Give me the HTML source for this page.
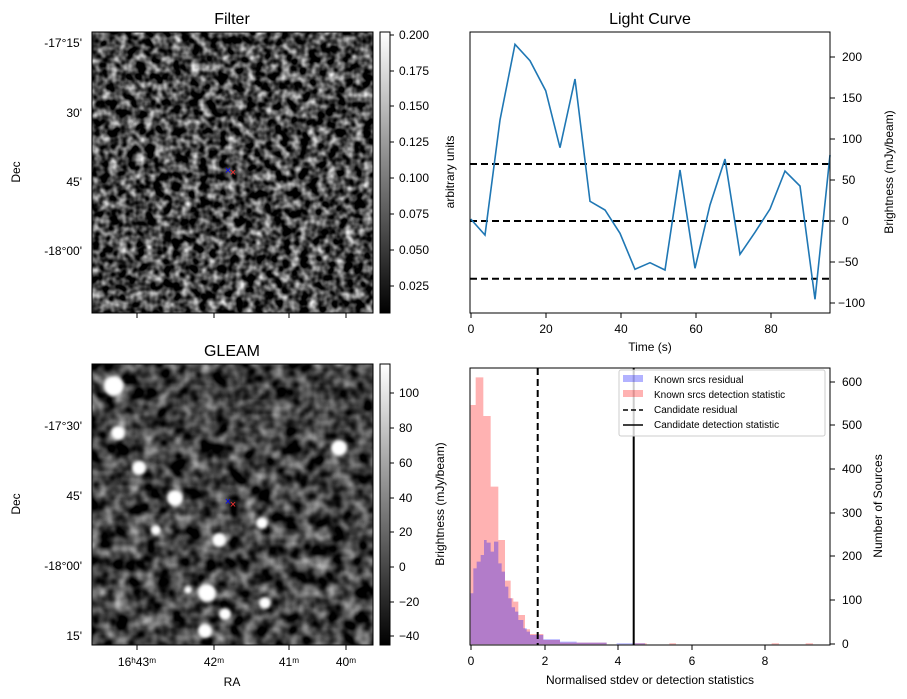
<!DOCTYPE html>
<html><head><style>
body{margin:0;background:#fff;}
svg{display:block;font-family:"Liberation Sans","DejaVu Sans",sans-serif;}
</style></head><body>
<svg width="907" height="699" viewBox="0 0 907 699" xmlns="http://www.w3.org/2000/svg">
<defs>
<filter id="n1" x="0" y="0" width="100%" height="100%" color-interpolation-filters="sRGB">
<feTurbulence type="fractalNoise" baseFrequency="0.11" numOctaves="2" seed="3"/>
<feColorMatrix type="matrix" values="1.7 0 0 0 -0.58  1.7 0 0 0 -0.58  1.7 0 0 0 -0.58  0 0 0 0 1"/>
</filter>
<filter id="n2" x="0" y="0" width="100%" height="100%" color-interpolation-filters="sRGB">
<feTurbulence type="fractalNoise" baseFrequency="0.07" numOctaves="2" seed="7"/>
<feColorMatrix type="matrix" values="1.2 0 0 0 -0.35  1.2 0 0 0 -0.35  1.2 0 0 0 -0.35  0 0 0 0 1"/>
</filter>
<filter id="bl"><feGaussianBlur stdDeviation="1.6"/></filter>
<linearGradient id="cb" x1="0" y1="1" x2="0" y2="0"><stop offset="0" stop-color="#000"/><stop offset="1" stop-color="#fff"/></linearGradient>
</defs>

<!-- Filter image -->
<text x="232" y="24" font-size="16" text-anchor="middle">Filter</text>
<rect x="92" y="32" width="281" height="281" fill="#000" filter="url(#n1)"/>
<rect x="92" y="32" width="281" height="281" fill="none" stroke="#000"/>
<text x="228" y="174" font-size="11" fill="#00f" text-anchor="middle">×</text>
<text x="233" y="176" font-size="11" fill="#f33" text-anchor="middle">×</text>
<g font-size="12" text-anchor="end">
<text x="82" y="47">-17°15'</text><text x="82" y="117">30'</text><text x="82" y="186">45'</text><text x="82" y="255">-18°00'</text>
</g>
<text transform="translate(20,172) rotate(-90)" font-size="12" text-anchor="middle">Dec</text>
<g stroke="#000"><line x1="137" y1="313" x2="137" y2="318"/><line x1="214" y1="313" x2="214" y2="318"/><line x1="289" y1="313" x2="289" y2="318"/><line x1="346" y1="313" x2="346" y2="318"/></g>
<rect x="380" y="32" width="10" height="281" fill="url(#cb)" stroke="#000"/>
<g font-size="12"><text x="399" y="39">0.200</text><text x="399" y="75">0.175</text><text x="399" y="110">0.150</text><text x="399" y="146">0.125</text><text x="399" y="182">0.100</text><text x="399" y="218">0.075</text><text x="399" y="254">0.050</text><text x="399" y="290">0.025</text></g>
<g stroke="#000"><line x1="390" y1="35" x2="394" y2="35"/><line x1="390" y1="71" x2="394" y2="71"/><line x1="390" y1="106" x2="394" y2="106"/><line x1="390" y1="142" x2="394" y2="142"/><line x1="390" y1="178" x2="394" y2="178"/><line x1="390" y1="214" x2="394" y2="214"/><line x1="390" y1="250" x2="394" y2="250"/><line x1="390" y1="286" x2="394" y2="286"/></g>
<text transform="translate(454,172) rotate(-90)" font-size="12" text-anchor="middle">arbitrary units</text>

<!-- GLEAM image -->
<text x="232" y="356" font-size="16" text-anchor="middle">GLEAM</text>
<rect x="92" y="364" width="281" height="281" fill="#000" filter="url(#n2)"/>
<g fill="#fff" filter="url(#bl)">
<circle cx="114" cy="386" r="10"/><circle cx="118" cy="433" r="7"/><circle cx="139" cy="468" r="7"/><circle cx="175" cy="498" r="8"/><circle cx="339" cy="448" r="8"/><circle cx="219" cy="540" r="7"/><circle cx="262" cy="523" r="6"/><circle cx="207" cy="593" r="9"/><circle cx="205" cy="631" r="7"/><circle cx="225" cy="614" r="6"/><circle cx="265" cy="603" r="6"/><circle cx="156" cy="530" r="5"/><circle cx="188" cy="590" r="4"/>
</g>
<rect x="92" y="364" width="281" height="281" fill="none" stroke="#000"/>
<text x="228" y="505" font-size="11" fill="#00f" text-anchor="middle">×</text>
<text x="233" y="508" font-size="11" fill="#f33" text-anchor="middle">×</text>
<g font-size="12" text-anchor="end">
<text x="82" y="430">-17°30'</text><text x="82" y="500">45'</text><text x="82" y="570">-18°00'</text><text x="82" y="640">15'</text>
</g>
<text transform="translate(20,504) rotate(-90)" font-size="12" text-anchor="middle">Dec</text>
<g stroke="#000"><line x1="137" y1="645" x2="137" y2="650"/><line x1="214" y1="645" x2="214" y2="650"/><line x1="289" y1="645" x2="289" y2="650"/><line x1="346" y1="645" x2="346" y2="650"/></g>
<g font-size="12" text-anchor="middle"><text x="137" y="666">16ʰ43ᵐ</text><text x="214" y="666">42ᵐ</text><text x="289" y="666">41ᵐ</text><text x="346" y="666">40ᵐ</text></g>
<text x="232" y="686" font-size="12" text-anchor="middle">RA</text>
<rect x="380" y="364" width="10" height="281" fill="url(#cb)" stroke="#000"/>
<g font-size="12"><text x="399" y="397">100</text><text x="399" y="432">80</text><text x="399" y="467">60</text><text x="399" y="502">40</text><text x="399" y="536">20</text><text x="399" y="571">0</text><text x="399" y="606">−20</text><text x="399" y="640">−40</text></g>
<g stroke="#000"><line x1="390" y1="393" x2="394" y2="393"/><line x1="390" y1="428" x2="394" y2="428"/><line x1="390" y1="463" x2="394" y2="463"/><line x1="390" y1="498" x2="394" y2="498"/><line x1="390" y1="532" x2="394" y2="532"/><line x1="390" y1="567" x2="394" y2="567"/><line x1="390" y1="602" x2="394" y2="602"/><line x1="390" y1="636" x2="394" y2="636"/></g>
<text transform="translate(444,504) rotate(-90)" font-size="12" text-anchor="middle">Brightness (mJy/beam)</text>

<!-- Light curve -->
<text x="650" y="24" font-size="16" text-anchor="middle">Light Curve</text>
<g fill="none" stroke="#000" stroke-width="2" stroke-dasharray="7,4">
<line x1="470" y1="164" x2="830" y2="164"/><line x1="470" y1="221" x2="830" y2="221"/><line x1="470" y1="278.7" x2="830" y2="278.7"/>
</g>
<polyline fill="none" stroke="#1f77b4" stroke-width="1.6" points="470.7,219 485,235 500,120 515,44.3 530,60.7 545.7,90.7 560,147.7 575,79 590,201.3 605,210 620,233.3 635,269.3 650,262.7 665,270 680,170 695,268.3 710,205 725,159 740,254.3 755,232.3 770,209 785,171 800,186 815,299.3 830,155"/>
<rect x="470" y="32" width="360" height="281" fill="none" stroke="#000"/>
<g stroke="#000"><line x1="471" y1="313" x2="471" y2="318"/><line x1="546" y1="313" x2="546" y2="318"/><line x1="621" y1="313" x2="621" y2="318"/><line x1="696" y1="313" x2="696" y2="318"/><line x1="771" y1="313" x2="771" y2="318"/>
<line x1="830" y1="57" x2="835" y2="57"/><line x1="830" y1="98" x2="835" y2="98"/><line x1="830" y1="139" x2="835" y2="139"/><line x1="830" y1="180" x2="835" y2="180"/><line x1="830" y1="221" x2="835" y2="221"/><line x1="830" y1="262" x2="835" y2="262"/><line x1="830" y1="303" x2="835" y2="303"/></g>
<g font-size="12" text-anchor="middle"><text x="471" y="333">0</text><text x="546" y="333">20</text><text x="621" y="333">40</text><text x="696" y="333">60</text><text x="771" y="333">80</text></g>
<text x="650" y="351" font-size="12" text-anchor="middle">Time (s)</text>
<g font-size="12"><text x="842" y="61">200</text><text x="842" y="102">150</text><text x="842" y="143">100</text><text x="842" y="184">50</text><text x="842" y="225">0</text><text x="838" y="266">−50</text><text x="838" y="307">−100</text></g>
<text transform="translate(893,172) rotate(-90)" font-size="12" text-anchor="middle">Brightness (mJy/beam)</text>

<!-- Histogram -->
<g transform="translate(460,360) scale(0.3333)">
<g fill="#ff0000" fill-opacity="0.3">
<path d="M32,853 V135 H47 V52 H70 V168 H92 V380 H115 V540 H135 V662 H152 V715 H160 V725 H175 V765 H195 V808 H210 V822 H250 V840 H300 V848 H440 V853 Z"/>
<rect x="525" y="850" width="35" height="3"/><rect x="628" y="850" width="20" height="3"/><rect x="935" y="850" width="22" height="3"/><rect x="1037" y="850" width="22" height="3"/>
</g>
<g fill="#0000ff" fill-opacity="0.3">
<path d="M32,853 V700 H40 V625 H50 V605 H62 V585 H72 V540 H80 V548 H92 V575 H102 V545 H115 V610 H125 V635 H135 V680 H145 V715 H155 V742 H165 V755 H175 V780 H190 V805 H200 V815 H210 V825 H250 V838 H300 V845 H350 V848 H440 V853 Z"/>
<rect x="470" y="850" width="85" height="3"/>
</g>
</g>
<line x1="537.7" y1="368" x2="537.7" y2="645" stroke="#000" stroke-width="2" stroke-dasharray="7,4"/>
<line x1="633.7" y1="368" x2="633.7" y2="645" stroke="#000" stroke-width="2"/>
<rect x="470" y="368" width="360" height="277" fill="none" stroke="#000"/>
<rect x="619" y="370" width="206" height="66" fill="#fff" fill-opacity="0.8" stroke="#ccc" rx="2"/>
<rect x="623" y="375" width="20" height="7" fill="#0000ff" fill-opacity="0.3"/>
<rect x="623" y="390" width="20" height="7" fill="#ff0000" fill-opacity="0.3"/>
<line x1="623" y1="410" x2="643" y2="410" stroke="#000" stroke-width="1.5" stroke-dasharray="5,3"/>
<line x1="623" y1="425" x2="643" y2="425" stroke="#000" stroke-width="1.5"/>
<g font-size="10"><text x="654" y="383">Known srcs residual</text><text x="654" y="398">Known srcs detection statistic</text><text x="654" y="413">Candidate residual</text><text x="654" y="428">Candidate detection statistic</text></g>
<g stroke="#000"><line x1="471" y1="645" x2="471" y2="650"/><line x1="545" y1="645" x2="545" y2="650"/><line x1="618" y1="645" x2="618" y2="650"/><line x1="692" y1="645" x2="692" y2="650"/><line x1="765" y1="645" x2="765" y2="650"/>
<line x1="830" y1="644" x2="835" y2="644"/><line x1="830" y1="600" x2="835" y2="600"/><line x1="830" y1="556" x2="835" y2="556"/><line x1="830" y1="513" x2="835" y2="513"/><line x1="830" y1="469" x2="835" y2="469"/><line x1="830" y1="425" x2="835" y2="425"/><line x1="830" y1="382" x2="835" y2="382"/></g>
<g font-size="12" text-anchor="middle"><text x="471" y="665">0</text><text x="545" y="665">2</text><text x="618" y="665">4</text><text x="692" y="665">6</text><text x="765" y="665">8</text></g>
<text x="650" y="684" font-size="12" text-anchor="middle">Normalised stdev or detection statistics</text>
<g font-size="12"><text x="842" y="648">0</text><text x="842" y="604">100</text><text x="842" y="560">200</text><text x="842" y="517">300</text><text x="842" y="473">400</text><text x="842" y="429">500</text><text x="842" y="386">600</text></g>
<text transform="translate(882,506) rotate(-90)" font-size="12" text-anchor="middle">Number of Sources</text>
</svg>
</body></html>
